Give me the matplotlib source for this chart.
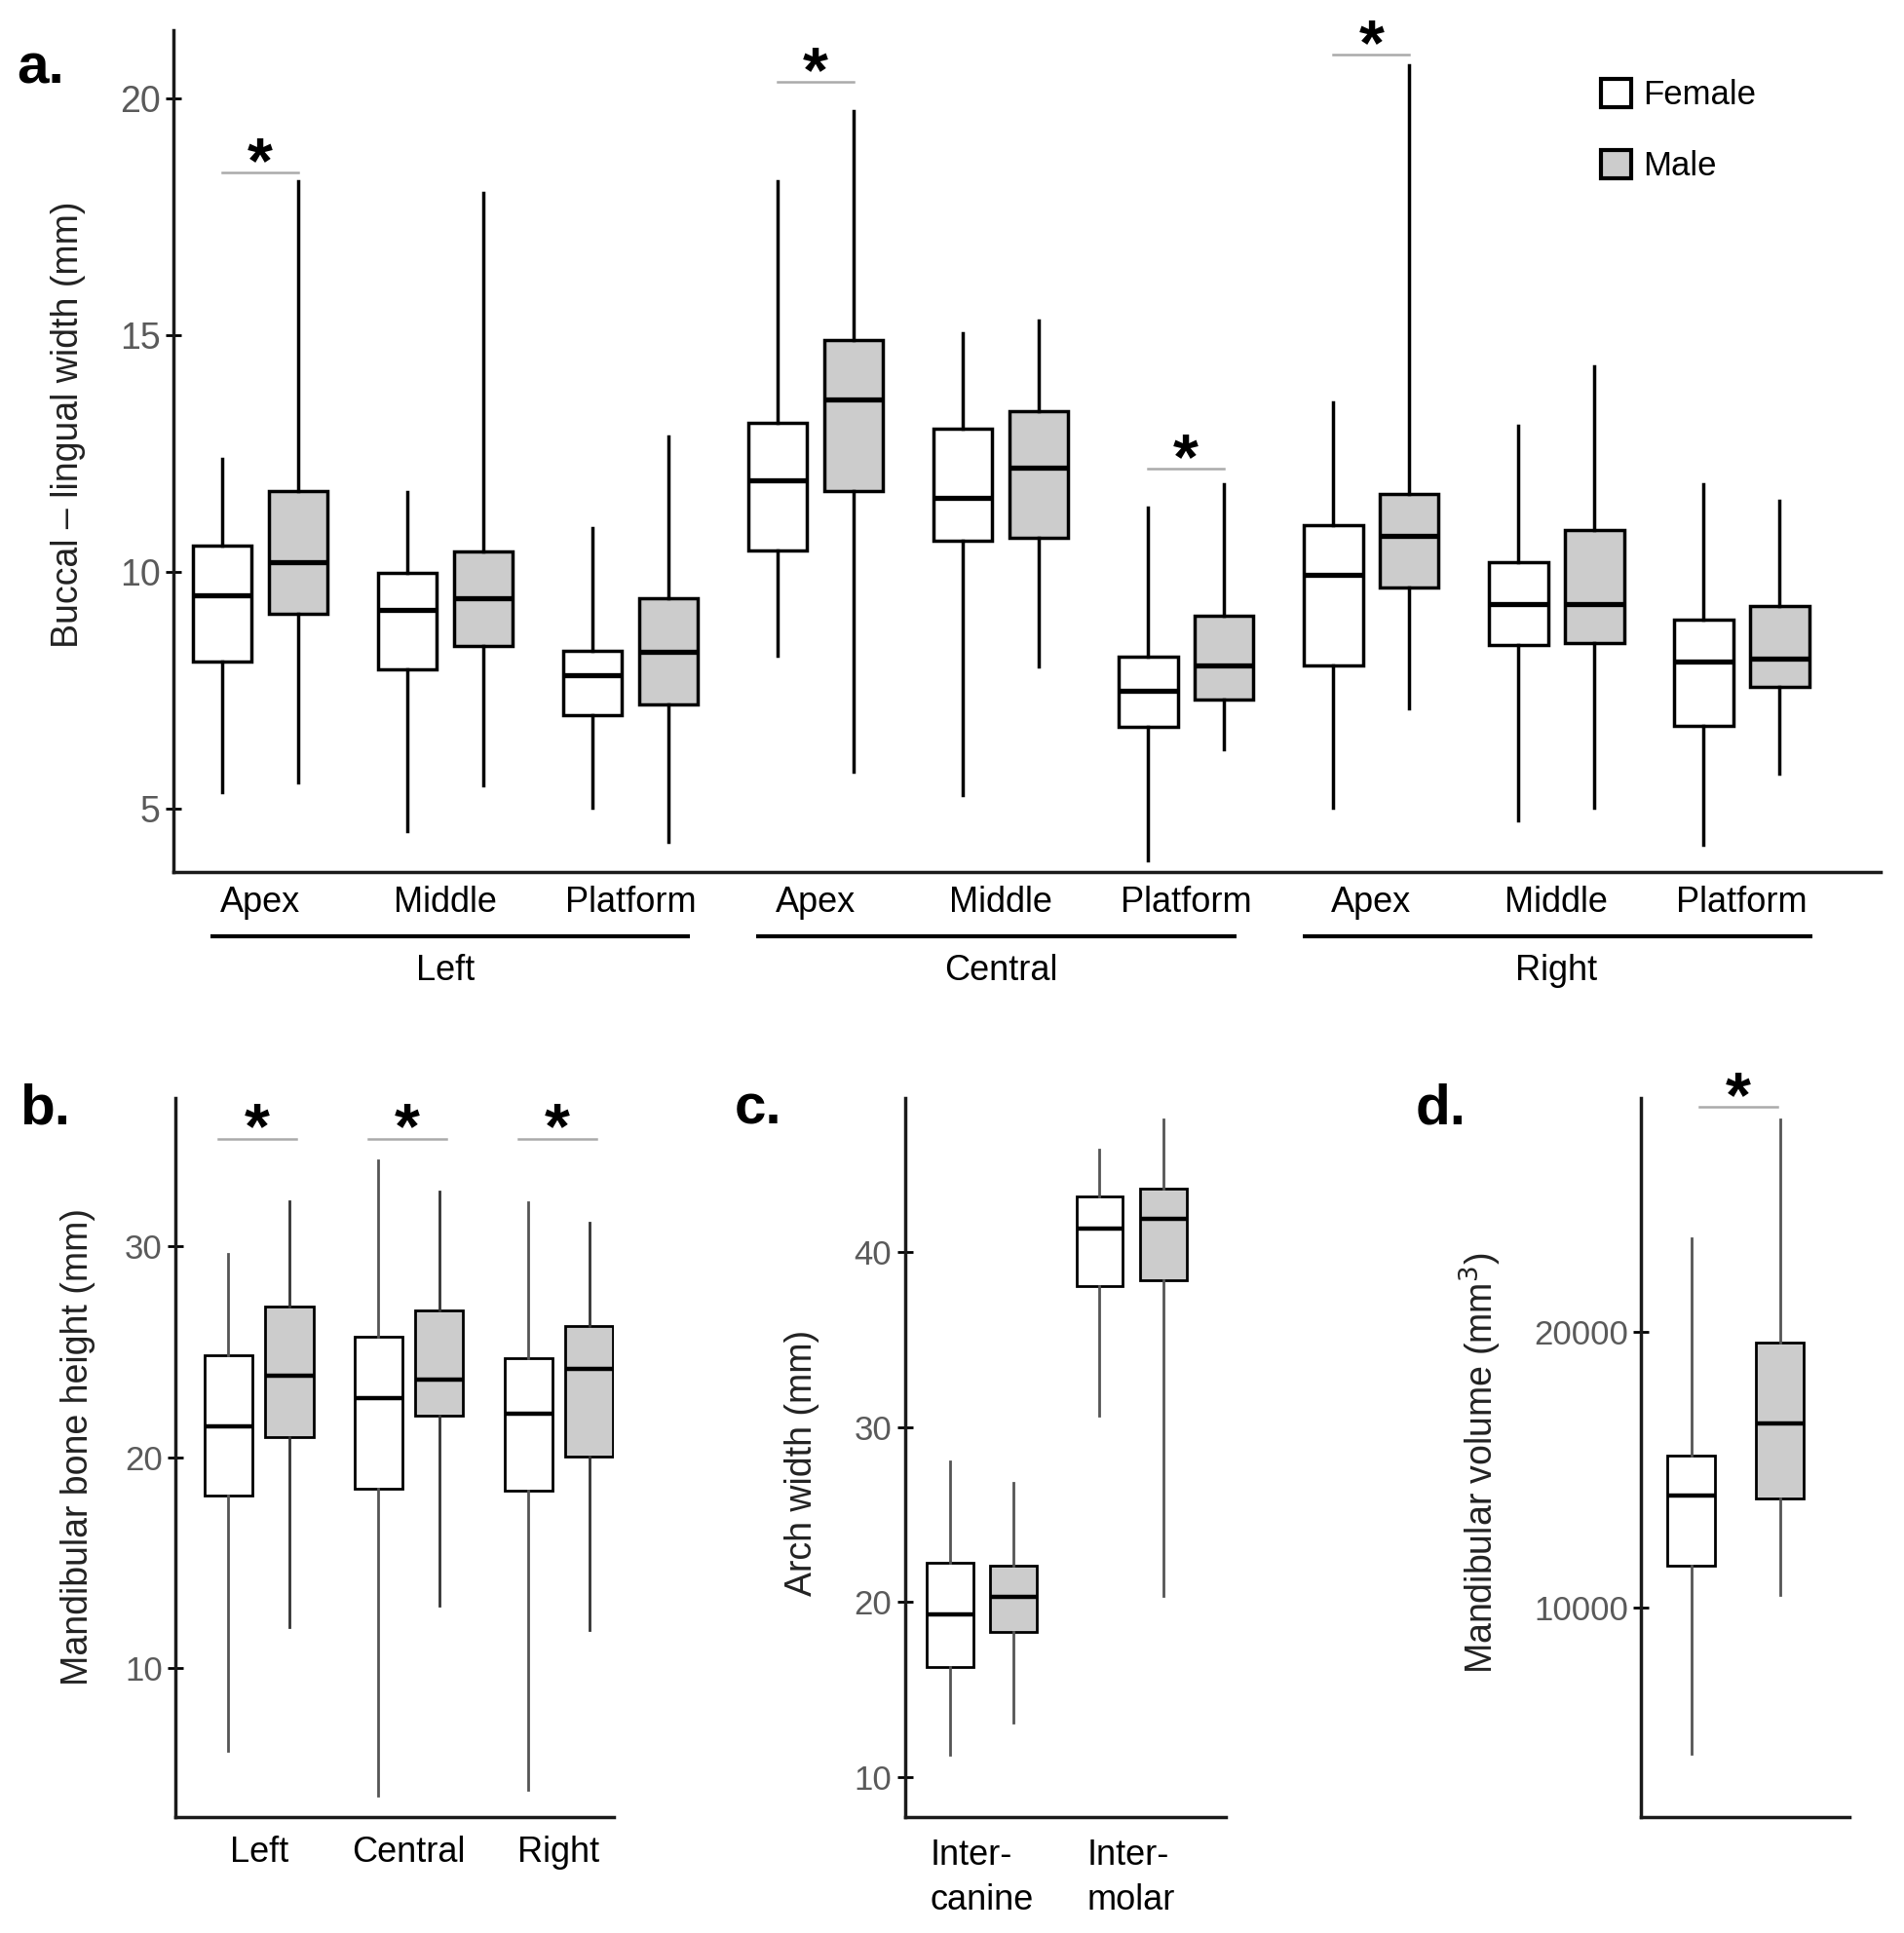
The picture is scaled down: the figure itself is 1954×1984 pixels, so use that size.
import matplotlib
matplotlib.use('Agg')
import matplotlib.pyplot as plt
import matplotlib.transforms as mtransforms
from matplotlib.patches import Patch

plt.rcParams['font.family'] = ['Liberation Sans', 'DejaVu Sans']

# ---- panel a: buccal-lingual width (mm) ----
a_sites = ['Apex', 'Middle', 'Platform'] * 3
a_regions = ['Left', 'Central', 'Right']
a_f_low = [5.34, 4.53, 5.01, 8.23, 5.28, 3.90, 5.01, 4.75, 4.23]
a_f_q1 = [8.10, 7.95, 6.98, 10.46, 10.66, 6.72, 8.03, 8.46, 6.75]
a_f_med = [9.51, 9.19, 7.81, 11.94, 11.57, 7.48, 9.93, 9.32, 8.10]
a_f_q3 = [10.55, 9.97, 8.33, 13.15, 13.02, 8.20, 10.98, 10.20, 8.98]
a_f_high = [12.39, 11.68, 10.92, 18.24, 15.03, 11.35, 13.58, 13.08, 11.84]
a_m_low = [5.56, 5.50, 4.29, 5.77, 8.01, 6.26, 7.11, 5.01, 5.73]
a_m_q1 = [9.12, 8.43, 7.20, 11.71, 10.72, 7.31, 9.67, 8.49, 7.57]
a_m_med = [10.20, 9.44, 8.32, 13.65, 12.20, 8.03, 10.76, 9.32, 8.16]
a_m_q3 = [11.71, 10.43, 9.45, 14.90, 13.39, 9.08, 11.64, 10.88, 9.28]
a_m_high = [18.24, 18.01, 12.85, 19.74, 15.31, 11.84, 20.70, 14.33, 11.51]
a_sig_idx = [0, 3, 5, 6]
a_sig_y = [18.43, 20.34, 12.18, 20.92]

# ---- panel b: mandibular bone height (mm) ----
b_sites = ['Left', 'Central', 'Right']
b_f_low = [6.09, 3.97, 4.26]
b_f_q1 = [18.17, 18.52, 18.41]
b_f_med = [21.45, 22.81, 22.03]
b_f_q3 = [24.81, 25.68, 24.70]
b_f_high = [29.62, 34.06, 32.06]
b_m_low = [11.94, 12.96, 11.80]
b_m_q1 = [20.93, 21.94, 20.03]
b_m_med = [23.83, 23.65, 24.17]
b_m_q3 = [27.13, 26.93, 26.20]
b_m_high = [32.09, 32.55, 31.07]
b_sig_y = [35.07, 35.07, 35.07]

# ---- panel c: arch width (mm) ----
c_sites = ['Inter-\ncanine', 'Inter-\nmolar']
c_f_low = [11.29, 30.66]
c_f_q1 = [16.29, 38.08]
c_f_med = [19.30, 41.36]
c_f_q3 = [22.27, 43.18]
c_f_high = [28.04, 45.84]
c_m_low = [13.11, 20.35]
c_m_q1 = [18.32, 38.39]
c_m_med = [20.31, 41.89]
c_m_q3 = [22.06, 43.64]
c_m_high = [26.82, 47.59]

# ---- panel d: mandibular volume (mm^3), female then male ----
d_low = [4667, 10444]
d_q1 = [11489, 13956]
d_med = [14067, 16667]
d_q3 = [15489, 19622]
d_high = [23400, 27711]
d_sig_y = 28155

MALE_GREY = '#cccccc'
SIG_GREY = '#aaaaaa'


def draw_boxes(ax, pos, low, q1, med, q3, high, width, face, lw, mlw, wcolor):
    stats = [dict(whislo=w0, q1=b1, med=m, q3=b3, whishi=w1)
             for w0, b1, m, b3, w1 in zip(low, q1, med, q3, high)]
    ax.bxp(stats, positions=pos, widths=width, showfliers=False, showcaps=False,
           patch_artist=True,
           boxprops=dict(facecolor=face, edgecolor='black', linewidth=lw),
           medianprops=dict(color='black', linewidth=mlw),
           whiskerprops=dict(color=wcolor, linewidth=lw))


def style(ax, ticksize):
    for s in ['top', 'right']:
        ax.spines[s].set_visible(False)
    for s in ['left', 'bottom']:
        ax.spines[s].set_linewidth(2.5)
        ax.spines[s].set_color('#1a1a1a')
    ax.tick_params(axis='y', direction='inout', length=11, width=2, pad=4,
                   labelsize=ticksize, labelcolor='#5a5a5a')
    ax.tick_params(axis='x', length=0, labelsize=26)


def sig(ax, x0, x1, y):
    ax.plot([x0, x1], [y, y], color=SIG_GREY, lw=1.8, clip_on=False)
    ax.annotate('*', xy=((x0 + x1) / 2, y), xytext=(0, -7), textcoords='offset points',
                ha='center', va='baseline', fontsize=48, fontweight='bold')


fig = plt.figure(figsize=(19.54, 19.84), dpi=100)

# panel a
ax = fig.add_axes([0.0911, 0.5489, 0.8966, 0.4355])
n = len(a_sites)
pos = list(range(1, n + 1))
draw_boxes(ax, [p - 0.205 for p in pos], a_f_low, a_f_q1, a_f_med, a_f_q3, a_f_high,
           0.318, 'white', 2.5, 3.8, 'black')
draw_boxes(ax, [p + 0.205 for p in pos], a_m_low, a_m_q1, a_m_med, a_m_q3, a_m_high,
           0.318, MALE_GREY, 2.5, 3.8, 'black')
ax.set_xlim(0.532, 9.75)
ax.set_ylim(3.66, 21.44)
ax.set_yticks([5, 10, 15, 20])
ax.set_xticks(pos)
ax.set_xticklabels(a_sites)
style(ax, 27)
ax.tick_params(axis='x', pad=10)
ax.set_ylabel('Buccal \u2013 lingual width (mm)', fontsize=27, color='#222222')
ax.yaxis.set_label_coords(-0.0514, 0.531)
for i, y in zip(a_sig_idx, a_sig_y):
    sig(ax, pos[i] - 0.205, pos[i] + 0.205, y)
trans = mtransforms.blended_transform_factory(ax.transData, ax.transAxes)
region_start = [0.73, 3.68, 6.63]
region_end = [3.32, 6.27, 9.38]
for name, x0, x1, xc in zip(a_regions, region_start, region_end, [2, 5, 8]):
    ax.plot([x0, x1], [-0.0764, -0.0764], transform=trans, color='black', lw=3,
            clip_on=False, solid_capstyle='butt')
    ax.text(xc, -0.118, name, transform=trans, ha='center', va='center', fontsize=26)
handles = [Patch(facecolor='white', edgecolor='black', linewidth=3),
           Patch(facecolor=MALE_GREY, edgecolor='black', linewidth=3)]
ax.legend(handles, ['Female', 'Male'], loc='upper left', bbox_to_anchor=(0.836, 0.942),
          frameon=False, borderpad=0, borderaxespad=0, handlelength=0.9,
          handleheight=0.9, handletextpad=0.35, labelspacing=1.13, fontsize=25)

# panel b
ax = fig.add_axes([0.0921, 0.0600, 0.2303, 0.372])
pos = list(range(1, len(b_sites) + 1))
draw_boxes(ax, [p - 0.203 for p in pos], b_f_low, b_f_q1, b_f_med, b_f_q3, b_f_high,
           0.32, 'white', 2.0, 3.2, '#555555')
draw_boxes(ax, [p + 0.203 for p in pos], b_m_low, b_m_q1, b_m_med, b_m_q3, b_m_high,
           0.32, MALE_GREY, 2.0, 3.2, '#333333')
ax.set_xlim(0.443, 3.367)
ax.set_ylim(2.96, 37.0)
ax.set_yticks([10, 20, 30])
ax.set_xticks(pos)
ax.set_xticklabels(b_sites)
style(ax, 25)
ax.tick_params(axis='x', pad=14)
ax.set_ylabel('Mandibular bone height (mm)', fontsize=27, color='#222222')
ax.yaxis.set_label_coords(-0.182, 0.515)
for p, y in zip(pos, b_sig_y):
    sig(ax, p - 0.27, p + 0.25, y)

# panel c
ax = fig.add_axes([0.4752, 0.0600, 0.1686, 0.372])
pos = list(range(1, len(c_sites) + 1))
draw_boxes(ax, [p - 0.212 for p in pos], c_f_low, c_f_q1, c_f_med, c_f_q3, c_f_high,
           0.31, 'white', 2.0, 3.2, '#555555')
draw_boxes(ax, [p + 0.212 for p in pos], c_m_low, c_m_q1, c_m_med, c_m_q3, c_m_high,
           0.31, MALE_GREY, 2.0, 3.2, '#555555')
ax.set_xlim(0.488, 2.63)
ax.set_ylim(7.73, 48.8)
ax.set_yticks([10, 20, 30, 40])
ax.set_xticks(pos)
ax.set_xticklabels(c_sites, multialignment='left', linespacing=1.4)
style(ax, 25)
ax.tick_params(axis='x', pad=16)
ax.set_ylabel('Arch width (mm)', fontsize=27, color='#222222')
ax.yaxis.set_label_coords(-0.266, 0.492)

# panel d
ax = fig.add_axes([0.8618, 0.0600, 0.1095, 0.372])
draw_boxes(ax, [1], d_low[:1], d_q1[:1], d_med[:1], d_q3[:1], d_high[:1],
           0.54, 'white', 2.0, 3.2, '#555555')
draw_boxes(ax, [2], d_low[1:], d_q1[1:], d_med[1:], d_q3[1:], d_high[1:],
           0.54, MALE_GREY, 2.0, 3.2, '#555555')
ax.set_xlim(0.43, 2.78)
ax.set_ylim(2378, 28489)
ax.set_yticks([10000, 20000])
ax.set_xticks([])
style(ax, 25)
ax.set_ylabel('Mandibular volume (mm$^3$)', fontsize=27, color='#222222')
ax.yaxis.set_label_coords(-0.659, 0.492)
sig(ax, 1.085, 1.97, d_sig_y)

# panel letters
fig.text(17 / 1954, 1 - 86 / 1984, 'a.', fontsize=42, fontweight='bold', va='baseline')
fig.text(20 / 1954, 1 - 1154 / 1984, 'b.', fontsize=42, fontweight='bold', va='baseline')
fig.text(754 / 1954, 1 - 1154 / 1984, 'c.', fontsize=42, fontweight='bold', va='baseline')
fig.text(1453 / 1954, 1 - 1154 / 1984, 'd.', fontsize=42, fontweight='bold', va='baseline')

fig.savefig('out.png', dpi=100, facecolor='white')
